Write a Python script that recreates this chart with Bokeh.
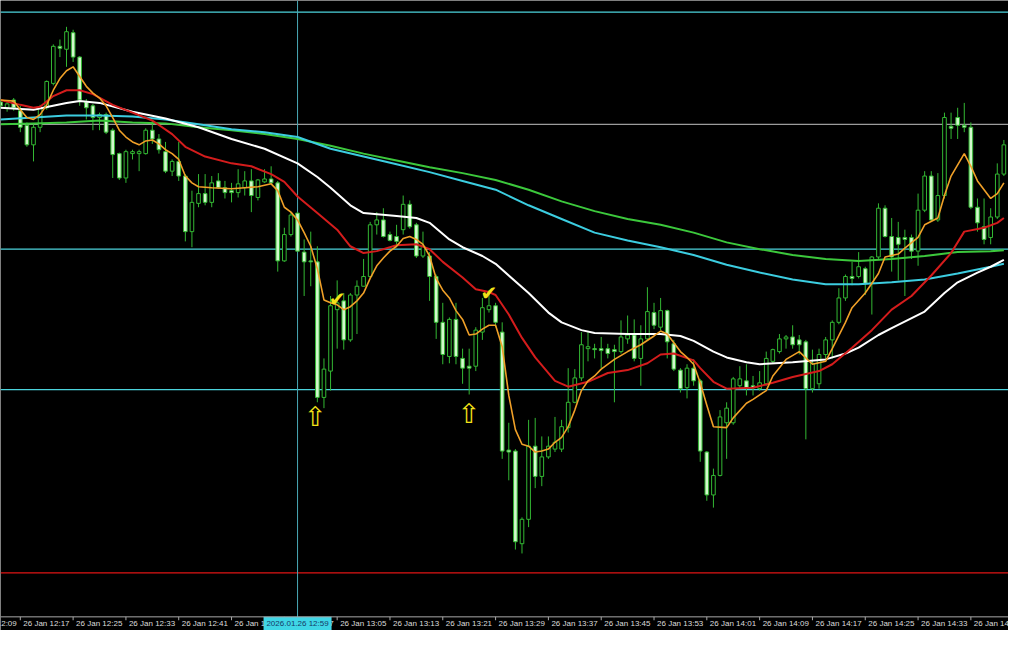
from bokeh.plotting import figure
from bokeh.models import Range1d, Span, ColumnDataSource
from bokeh.core.properties import value
from bokeh.embed import file_html
from bokeh.resources import INLINE

# ---- 1-minute candles, 26 Jan 12:14 onwards (index = minute offset) ----
opens = [
    5079.6, 5079.0, 5079.8, 5078.7, 5077.2, 5075.2, 5077.0, 5079.0, 5081.5, 5085.3,
    5085.0, 5086.7, 5084.2, 5079.6, 5079.2, 5078.0, 5078.3, 5076.7, 5074.3, 5071.8,
    5074.3, 5074.3, 5074.3, 5076.7, 5075.8, 5074.5, 5072.5, 5073.5, 5072.0, 5066.3,
    5069.2, 5070.2, 5069.3, 5071.5, 5070.8, 5070.5, 5070.3, 5070.8, 5071.5, 5069.8,
    5071.4, 5071.7, 5071.3, 5063.3, 5066.0, 5068.2, 5064.2, 5063.3, 5063.2, 5049.3,
    5052.0, 5058.3, 5059.2, 5055.2, 5059.8, 5060.7, 5061.7, 5067.0, 5067.5, 5066.0,
    5065.8, 5066.5, 5069.1, 5067.0, 5063.8, 5063.8, 5061.7, 5057.0, 5053.5, 5057.3,
    5053.3, 5052.5, 5052.5, 5056.0, 5058.3, 5058.7, 5056.0, 5043.9, 5043.8, 5034.3,
    5036.8, 5044.3, 5041.2, 5043.2, 5044.0, 5044.0, 5046.2, 5048.8, 5051.3, 5054.3,
    5054.3, 5054.3, 5054.3, 5054.2, 5054.0, 5055.3, 5055.7, 5053.3, 5055.3, 5058.0,
    5056.5, 5058.2, 5054.8, 5052.1, 5050.3, 5052.3, 5051.0, 5043.7, 5039.3, 5041.3,
    5046.7, 5046.7, 5050.5, 5051.0, 5050.5, 5050.2, 5050.7, 5053.0, 5054.0, 5055.3,
    5055.5, 5055.2, 5055.0, 5050.2, 5050.7, 5053.7, 5055.2, 5057.0, 5059.5, 5061.7,
    5061.7, 5062.5, 5061.0, 5063.7, 5068.7, 5065.8, 5065.7, 5065.7, 5065.7, 5064.3,
    5068.5, 5072.0, 5067.5, 5070.0, 5077.1, 5078.0, 5077.2, 5077.0, 5068.8, 5066.8,
    5065.7, 5067.8, 5072.2]
highs = [
    5079.9, 5079.7, 5080.0, 5079.2, 5077.5, 5077.3, 5079.3, 5081.8, 5085.5, 5086.0,
    5087.3, 5087.0, 5084.3, 5079.9, 5079.4, 5078.5, 5078.5, 5076.9, 5074.4, 5074.7,
    5074.7, 5074.7, 5076.9, 5077.7, 5076.3, 5075.5, 5073.7, 5075.5, 5072.2, 5070.5,
    5072.2, 5072.2, 5072.0, 5072.3, 5071.5, 5071.3, 5072.7, 5072.5, 5072.7, 5071.7,
    5072.7, 5073.0, 5071.5, 5066.7, 5068.3, 5068.3, 5065.5, 5066.3, 5064.8, 5053.3,
    5059.7, 5061.3, 5060.0, 5060.0, 5061.3, 5063.5, 5067.3, 5068.3, 5068.7, 5066.3,
    5067.0, 5070.0, 5069.5, 5067.2, 5066.3, 5064.2, 5061.9, 5059.0, 5057.5, 5059.0,
    5054.3, 5054.3, 5056.5, 5059.5, 5060.3, 5059.0, 5057.0, 5046.7, 5044.0, 5037.0,
    5047.0, 5047.2, 5045.3, 5045.3, 5047.3, 5047.0, 5052.3, 5052.2, 5056.0, 5056.0,
    5054.8, 5055.5, 5054.8, 5054.7, 5057.2, 5057.7, 5057.3, 5056.7, 5060.6, 5059.0,
    5059.5, 5058.3, 5055.2, 5052.3, 5052.7, 5053.2, 5051.2, 5043.8, 5042.0, 5048.0,
    5048.8, 5051.4, 5052.5, 5052.7, 5051.5, 5052.0, 5054.0, 5054.3, 5055.8, 5055.7,
    5056.7, 5055.7, 5055.2, 5054.2, 5054.3, 5055.5, 5057.2, 5060.5, 5061.9, 5063.2,
    5064.2, 5062.7, 5063.8, 5069.2, 5069.0, 5067.7, 5067.3, 5066.5, 5066.0, 5070.2,
    5072.5, 5072.5, 5072.3, 5078.5, 5078.5, 5079.0, 5079.5, 5077.5, 5069.7, 5069.7,
    5068.7, 5073.3, 5075.7]
lows = [
    5078.9, 5078.6, 5078.7, 5076.5, 5075.0, 5073.5, 5076.5, 5078.8, 5081.3, 5084.2,
    5083.2, 5083.7, 5079.2, 5077.8, 5076.7, 5076.7, 5076.3, 5071.8, 5071.6, 5071.3,
    5073.7, 5072.5, 5074.2, 5075.3, 5074.3, 5072.3, 5072.0, 5071.5, 5065.3, 5064.7,
    5068.8, 5069.0, 5068.8, 5070.7, 5069.7, 5069.3, 5069.8, 5070.0, 5068.3, 5069.5,
    5071.3, 5071.2, 5062.2, 5063.2, 5065.8, 5064.2, 5059.7, 5060.7, 5048.8, 5048.2,
    5050.0, 5054.3, 5054.2, 5055.0, 5055.8, 5060.7, 5061.5, 5066.0, 5065.7, 5065.3,
    5064.8, 5066.0, 5066.6, 5063.6, 5063.6, 5059.2, 5055.3, 5052.7, 5052.8, 5052.7,
    5050.7, 5049.6, 5052.0, 5055.2, 5058.0, 5056.5, 5043.0, 5040.8, 5033.7, 5033.3,
    5036.0, 5040.0, 5040.2, 5043.0, 5043.7, 5043.7, 5045.7, 5048.7, 5051.0, 5053.0,
    5053.3, 5052.3, 5053.3, 5048.8, 5053.8, 5054.8, 5053.0, 5050.5, 5055.2, 5056.3,
    5056.2, 5053.3, 5052.0, 5049.8, 5049.2, 5050.5, 5042.7, 5038.7, 5038.0, 5041.2,
    5043.0, 5046.5, 5050.2, 5049.5, 5049.5, 5050.0, 5050.5, 5052.8, 5053.8, 5054.3,
    5054.3, 5053.7, 5045.0, 5049.8, 5050.2, 5053.3, 5053.3, 5056.8, 5059.2, 5060.8,
    5061.5, 5059.8, 5057.8, 5063.5, 5065.7, 5062.2, 5061.3, 5059.7, 5063.5, 5062.8,
    5068.3, 5067.3, 5067.3, 5069.7, 5075.8, 5075.8, 5076.5, 5068.6, 5066.3, 5065.0,
    5065.0, 5067.6, 5072.0]
closes = [
    5079.2, 5079.4, 5079.0, 5077.0, 5075.2, 5077.0, 5079.0, 5081.7, 5085.3, 5085.1,
    5086.8, 5084.2, 5079.8, 5079.0, 5078.0, 5078.3, 5076.5, 5074.2, 5071.8, 5074.5,
    5074.5, 5074.5, 5076.7, 5075.8, 5074.7, 5072.5, 5073.5, 5072.0, 5066.3, 5069.3,
    5070.2, 5069.3, 5071.3, 5070.8, 5070.3, 5070.3, 5071.2, 5071.5, 5070.0, 5071.6,
    5071.7, 5071.3, 5063.3, 5066.0, 5068.0, 5064.3, 5063.2, 5063.2, 5049.3, 5052.2,
    5058.7, 5059.0, 5055.2, 5059.8, 5060.7, 5061.7, 5067.0, 5067.5, 5065.8, 5065.4,
    5065.3, 5069.1, 5066.8, 5063.8, 5064.8, 5061.7, 5057.0, 5053.7, 5057.3, 5053.5,
    5052.3, 5052.3, 5056.2, 5058.5, 5058.7, 5057.0, 5043.8, 5043.7, 5034.5, 5036.8,
    5044.3, 5041.2, 5043.2, 5044.3, 5044.7, 5046.3, 5048.8, 5051.3, 5054.7, 5054.5,
    5054.2, 5054.1, 5053.8, 5054.0, 5055.5, 5055.7, 5053.3, 5055.3, 5058.1, 5056.7,
    5058.2, 5055.0, 5052.2, 5050.2, 5052.3, 5051.0, 5043.8, 5039.3, 5041.3, 5047.3,
    5048.2, 5051.2, 5051.2, 5050.3, 5050.3, 5050.8, 5053.3, 5054.2, 5055.3, 5055.5,
    5054.7, 5054.7, 5050.2, 5052.8, 5053.7, 5055.2, 5057.0, 5059.5, 5061.7, 5061.5,
    5062.7, 5061.0, 5063.7, 5068.7, 5065.8, 5063.7, 5065.0, 5065.5, 5064.3, 5068.5,
    5072.0, 5067.5, 5070.0, 5078.0, 5076.9, 5077.2, 5077.0, 5068.8, 5067.2, 5065.5,
    5067.8, 5072.2, 5075.2]

# ---- moving averages, read at sampled candle indices ----
ma_fast_x = [0, 2, 3, 4, 5, 6, 7, 8, 9, 10, 11, 12, 13, 14, 15, 16, 17, 18, 19, 20,
             21, 22, 23, 24, 25, 26, 27, 28, 29, 30, 32, 35, 37, 39, 41, 42, 43, 44, 45, 46,
             47, 48, 49, 50, 51, 52, 53, 54, 55, 56, 57, 58, 59, 60, 61, 62, 63, 64, 65, 66,
             67, 68, 69, 70, 71, 72, 73, 74, 75, 76, 77, 78, 79, 80, 81, 82, 83, 84, 85, 86,
             87, 88, 89, 90, 91, 93, 95, 97, 99, 100, 101, 103, 104, 105, 106, 107, 108, 110, 111, 113,
             114, 116, 117, 119, 121, 123, 125, 126, 128, 129, 131, 133, 134, 136, 137, 139, 140, 142, 143, 144,
             146, 147, 148, 150, 151, 152]
ma_fast_y = [5079.8, 5079.7, 5078.8, 5078.0, 5077.8, 5078.3, 5079.3, 5080.8, 5082.0, 5082.8,
             5083.2, 5082.2, 5081.2, 5080.5, 5080.0, 5079.2, 5078.0, 5076.7, 5076.0, 5075.5,
             5075.2, 5075.6, 5075.7, 5075.3, 5074.7, 5074.3, 5073.7, 5072.0, 5071.3, 5070.9,
             5070.8, 5070.7, 5070.8, 5070.9, 5071.2, 5070.5, 5068.8, 5068.3, 5067.5, 5066.2,
             5064.8, 5062.5, 5059.3, 5059.0, 5058.8, 5058.3, 5058.6, 5059.2, 5060.0, 5061.5,
             5062.8, 5063.6, 5064.3, 5064.8, 5065.6, 5065.8, 5065.5, 5065.0, 5063.8, 5061.5,
             5060.3, 5059.5, 5058.2, 5057.3, 5055.7, 5055.8, 5056.3, 5056.7, 5056.7, 5054.5,
             5049.5, 5046.0, 5044.5, 5044.3, 5043.7, 5043.8, 5044.0, 5044.7, 5045.2, 5046.3,
             5048.0, 5050.0, 5051.0, 5051.5, 5052.2, 5053.2, 5054.0, 5054.7, 5055.6, 5056.1,
             5055.8, 5054.0, 5053.4, 5052.7, 5050.8, 5048.5, 5046.3, 5046.2, 5047.2, 5048.7,
             5049.1, 5050.0, 5051.5, 5053.2, 5054.0, 5052.7, 5053.0, 5054.3, 5057.0, 5058.5,
             5060.0, 5062.0, 5063.7, 5064.0, 5064.6, 5065.7, 5067.0, 5067.7, 5070.0, 5072.0,
             5074.3, 5073.0, 5071.5, 5069.7, 5070.2, 5071.3]

ma_mid_x = [0, 3, 5, 6, 8, 10, 12, 14, 17, 20, 23, 26, 28, 31, 35, 38, 41, 43, 45, 48,
            51, 53, 55, 57, 60, 63, 65, 67, 70, 72, 74, 75, 77, 79, 81, 84, 86, 89, 92, 95,
            98, 100, 102, 105, 106, 108, 110, 114, 117, 120, 124, 126, 129, 132, 135, 138, 141, 144, 146, 149,
            151, 152]
ma_mid_y = [5079.8, 5079.3, 5079.0, 5079.1, 5080.2, 5080.8, 5080.8, 5080.4, 5079.3, 5078.5,
            5077.7, 5076.3, 5075.0, 5074.0, 5073.3, 5073.0, 5072.2, 5071.4, 5069.9, 5068.2,
            5066.5, 5064.8, 5064.1, 5064.3, 5064.9, 5065.0, 5064.5, 5063.2, 5061.6, 5060.4,
            5060.1, 5059.8, 5057.8, 5055.4, 5053.4, 5051.0, 5050.4, 5050.9, 5051.8, 5052.1,
            5052.8, 5053.7, 5053.8, 5053.1, 5052.3, 5050.9, 5050.2, 5050.3, 5050.8, 5051.4,
            5052.0, 5052.7, 5054.4, 5056.2, 5058.3, 5059.7, 5061.8, 5064.1, 5066.3, 5066.7,
            5067.2, 5067.7]

ma_slow_x = [0, 5, 10, 12, 15, 20, 25, 30, 35, 40, 45, 48, 50, 53, 55, 60, 63, 65, 68, 70,
             73, 75, 80, 83, 85, 88, 90, 95, 100, 103, 105, 108, 110, 113, 115, 120, 125, 128, 130, 133,
             135, 140, 143, 145, 148, 150, 152]
ma_slow_y = [5079.0, 5078.8, 5079.5, 5079.7, 5079.5, 5078.6, 5077.9, 5077.0, 5075.8, 5074.8,
             5073.3, 5071.9, 5070.8, 5069.0, 5068.2, 5067.9, 5067.7, 5067.2, 5065.5, 5064.7,
             5063.8, 5063.0, 5060.0, 5058.0, 5057.0, 5056.2, 5055.9, 5055.8, 5055.8, 5055.6,
             5055.1, 5054.0, 5053.4, 5052.9, 5052.7, 5052.9, 5053.2, 5053.8, 5054.4, 5055.7,
             5056.4, 5058.1, 5060.0, 5061.1, 5062.1, 5062.7, 5063.4]

ma_long_x = [0, 5, 10, 15, 20, 25, 30, 35, 40, 45, 50, 55, 60, 65, 70, 75, 80, 85, 90, 95,
             100, 105, 110, 115, 120, 125, 130, 135, 140, 145, 150, 152]
ma_cyan_y = [5077.8, 5078.0, 5078.2, 5078.2, 5078.1, 5077.8, 5077.3, 5076.8, 5076.5, 5076.0,
             5074.8, 5074.0, 5073.2, 5072.4, 5071.5, 5070.6, 5069.0, 5067.6, 5066.2, 5065.4,
             5064.7, 5063.9, 5062.9, 5062.1, 5061.4, 5060.9, 5060.9, 5061.1, 5061.4, 5062.0,
             5062.7, 5063.0]
ma_green_y = [5077.3, 5077.4, 5077.5, 5077.7, 5077.5, 5077.4, 5077.0, 5076.7, 5076.3, 5075.8,
              5075.1, 5074.3, 5073.6, 5072.9, 5072.3, 5071.6, 5070.6, 5069.4, 5068.4, 5067.6,
              5067.0, 5066.2, 5065.2, 5064.5, 5063.9, 5063.5, 5063.3, 5063.5, 5063.8, 5064.2,
              5064.3, 5064.4]

# ---- horizontal price levels and marks ----
levels = [5088.8, 5077.3, 5064.5, 5050.1, 5031.3]
level_colors = ["#4cd3dc", "#9c9c9c", "#4cd3dc", "#4cd3dc", "#e01414"]
cursor_index = 45
cursor_label = "2026.01.26 12:59"
arrow_x = [47.7, 71.0]
arrow_y = [5047.3, 5047.7]
check_x = [51.0, 74.0]
check_y = [5059.4, 5060.0]

# ---- time scale (tick index = minute offset from 12:14) ----
tick_idx = [-5, 3, 11, 19, 27, 35, 43, 51, 59, 67, 75, 83, 91, 99, 107, 115, 123, 131, 139, 147]
tick_labels = ["26 Jan 12:09", "26 Jan 12:17", "26 Jan 12:25", "26 Jan 12:33", "26 Jan 12:41",
               "26 Jan 12:49", "26 Jan 12:57", "26 Jan 13:05", "26 Jan 13:13", "26 Jan 13:21",
               "26 Jan 13:29", "26 Jan 13:37", "26 Jan 13:45", "26 Jan 13:53", "26 Jan 14:01",
               "26 Jan 14:09", "26 Jan 14:17", "26 Jan 14:25", "26 Jan 14:33", "26 Jan 14:41"]
time_axis_level = 5026.8   # price level where the time scale is drawn

GREEN = "#33b833"
BEAR_FILL = "#d2f8cc"

n = len(opens)
src = ColumnDataSource(dict(
    x=list(range(n)),
    high=highs, low=lows,
    top=[max(o, c) for o, c in zip(opens, closes)],
    bottom=[min(o, c) for o, c in zip(opens, closes)],
    fill=["#000000" if c >= o else BEAR_FILL for o, c in zip(opens, closes)],
))

p = figure(width=1008, height=630, x_range=Range1d(0.0, 152.7), y_range=Range1d(5025.4, 5090.0),
           output_backend="svg", toolbar_location=None, x_axis_location=None, y_axis_location=None,
           background_fill_color="black", border_fill_color="black",
           min_border_left=0, min_border_right=0, min_border_top=0, min_border_bottom=0)
p.grid.visible = False
p.outline_line_color = None

for lv, col in zip(levels, level_colors):
    p.add_layout(Span(location=lv, dimension="width", line_color=col, line_width=1.2, level="underlay"))
p.add_layout(Span(location=cursor_index, dimension="height", line_color="#4aa9b6", line_width=1, level="underlay"))

p.segment(x0="x", y0="low", x1="x", y1="high", source=src, line_color=GREEN, line_width=1)
p.vbar(x="x", width=0.55, top="top", bottom="bottom", source=src,
       fill_color="fill", line_color=GREEN, line_width=1)

p.line(ma_long_x, ma_green_y, line_color="#3cc83c", line_width=2)
p.line(ma_long_x, ma_cyan_y, line_color="#3ccde0", line_width=2)
p.line(ma_slow_x, ma_slow_y, line_color="#ffffff", line_width=2)
p.line(ma_mid_x, ma_mid_y, line_color="#d41c1c", line_width=2)
p.line(ma_fast_x, ma_fast_y, line_color="#f0a028", line_width=1.6)

p.text(x=arrow_x, y=arrow_y, text=["\u21e7"] * len(arrow_x), text_font=value("DejaVu Sans"),
       text_font_size="27px", text_color="#f2e218", text_align="center", text_baseline="middle")
p.text(x=check_x, y=check_y, text=["\u2714"] * len(check_x), text_font=value("DejaVu Sans"),
       text_font_size="20px", text_color="#f2e218", text_align="center", text_baseline="middle")

# ---- time scale along the bottom (black band, axis line, ticks, labels) ----
p.add_layout(Span(location=time_axis_level, dimension="width", line_color="#a8a8a8", line_width=1))
p.segment(x0=tick_idx, y0=[time_axis_level] * len(tick_idx), x1=tick_idx,
          y1=[time_axis_level - 0.35] * len(tick_idx), line_color="#a8a8a8", line_width=1)
p.text(x=tick_idx, y=[time_axis_level - 0.25] * len(tick_idx), text=tick_labels,
       x_offset=3, text_font=value("Liberation Sans"), text_font_size="8px",
       text_color="#dcdcdc", text_align="left", text_baseline="top")
p.rect(x=[cursor_index], y=[time_axis_level - 0.7], width=68, height=14,
       width_units="screen", height_units="screen", fill_color="#3fd6e6", line_color=None)
p.text(x=[cursor_index], y=[time_axis_level - 0.7], text=[cursor_label],
       text_font=value("Liberation Sans"), text_font_size="8px", text_color="#163a66",
       text_align="center", text_baseline="middle")

open("out.html", "w").write(file_html(p, INLINE))
